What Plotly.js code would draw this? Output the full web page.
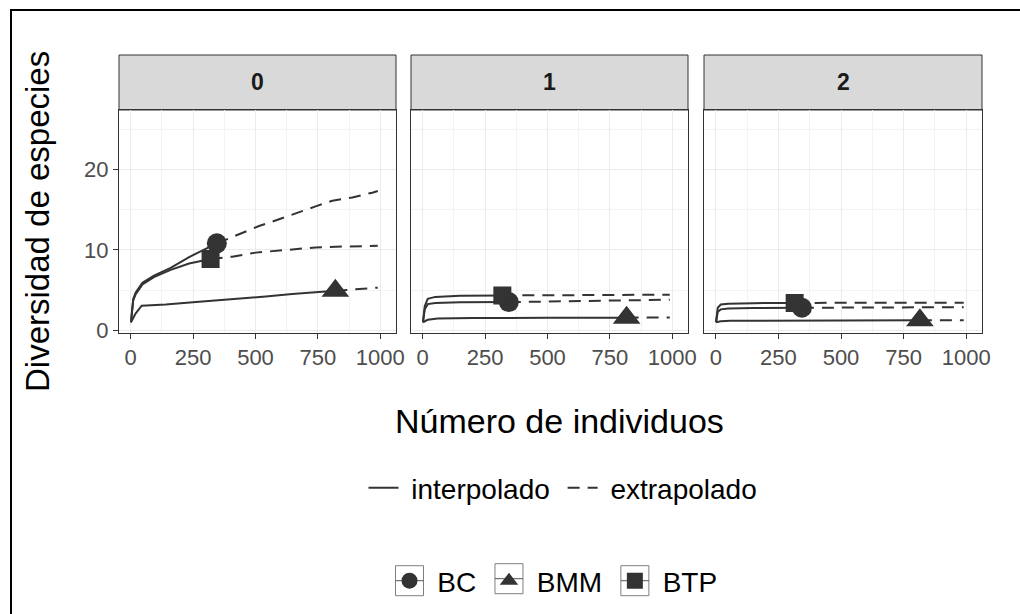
<!DOCTYPE html>
<html><head><meta charset="utf-8">
<script src="https://cdn.plot.ly/plotly-3.0.1.min.js"></script>
<style>html,body{margin:0;padding:0;background:#fff}#chart{width:1020px;height:614px}</style>
</head><body><div id="chart"></div>
<script>
// ---------- DATA ----------
const facetLabels = ['0', '1', '2'];
const siteNames = ['BC', 'BMM', 'BTP'];
const lineTypeNames = ['interpolado', 'extrapolado'];
const xTickVals = [0, 250, 500, 750, 1000];
const xTickText = ['0', '250', '500', '750', '1000'];
const yTickVals = [0, 10, 20];
const yTickText = ['0', '10', '20'];

// q = 0
const q0_BC_ix = [1, 10, 20, 47, 93, 160, 234, 274, 345];
const q0_BC_iy = [1, 3.9, 4.7, 5.9, 6.8, 7.75, 9.1, 9.75, 10.8];
const q0_BC_ex = [345, 427, 514, 600, 674, 741, 808, 888, 968, 990];
const q0_BC_ey = [10.8, 11.8, 12.95, 13.85, 14.7, 15.4, 16.1, 16.5, 17.1, 17.3];
const q0_BMM_ix = [1, 20, 44, 140, 274, 406, 541, 647, 741, 820];
const q0_BMM_iy = [1, 2.1, 3.06, 3.2, 3.55, 3.85, 4.2, 4.5, 4.72, 4.9];
const q0_BMM_ex = [820, 901, 990];
const q0_BMM_ey = [4.9, 5.1, 5.3];
const q0_BTP_ix = [1, 10, 20, 47, 93, 160, 234, 274, 320];
const q0_BTP_iy = [1, 3.7, 4.5, 5.7, 6.6, 7.5, 8.3, 8.55, 8.85];
const q0_BTP_ex = [320, 407, 501, 607, 741, 850, 952, 990];
const q0_BTP_ey = [8.85, 9.15, 9.65, 9.97, 10.3, 10.4, 10.45, 10.5];
const q0_obsX = [345, 820, 320];
const q0_obsY = [10.8, 4.9, 8.85];

// q = 1
const q1_BC_ix = [1, 8, 20, 50, 150, 345];
const q1_BC_iy = [1, 2.6, 3.25, 3.4, 3.47, 3.5];
const q1_BC_ex = [345, 550, 700, 990];
const q1_BC_ey = [3.5, 3.58, 3.72, 3.8];
const q1_BMM_ix = [1, 20, 60, 200, 500, 817];
const q1_BMM_iy = [1, 1.3, 1.45, 1.52, 1.55, 1.57];
const q1_BMM_ex = [817, 990];
const q1_BMM_ey = [1.57, 1.6];
const q1_BTP_ix = [1, 8, 20, 50, 150, 319];
const q1_BTP_iy = [1, 3.0, 3.9, 4.15, 4.28, 4.33];
const q1_BTP_ex = [319, 600, 990];
const q1_BTP_ey = [4.33, 4.4, 4.42];
const q1_obsX = [345, 817, 319];
const q1_obsY = [3.5, 1.57, 4.33];

// q = 2
const q2_BC_ix = [1, 8, 20, 50, 150, 344];
const q2_BC_iy = [1, 2.3, 2.6, 2.7, 2.76, 2.8];
const q2_BC_ex = [344, 600, 990];
const q2_BC_ey = [2.8, 2.85, 2.87];
const q2_BMM_ix = [1, 20, 60, 200, 500, 815];
const q2_BMM_iy = [1, 1.12, 1.18, 1.2, 1.22, 1.25];
const q2_BMM_ex = [815, 990];
const q2_BMM_ey = [1.25, 1.26];
const q2_BTP_ix = [1, 8, 20, 50, 150, 315];
const q2_BTP_iy = [1, 2.8, 3.2, 3.3, 3.37, 3.4];
const q2_BTP_ex = [315, 600, 990];
const q2_BTP_ey = [3.4, 3.42, 3.43];
const q2_obsX = [344, 815, 315];
const q2_obsY = [2.8, 1.25, 3.4];

// ---------- BUILD ----------
const facets = [
  {ax: 'x', ay: 'y', curves: [
    [q0_BC_ix, q0_BC_iy, q0_BC_ex, q0_BC_ey],
    [q0_BMM_ix, q0_BMM_iy, q0_BMM_ex, q0_BMM_ey],
    [q0_BTP_ix, q0_BTP_iy, q0_BTP_ex, q0_BTP_ey]], obsX: q0_obsX, obsY: q0_obsY},
  {ax: 'x2', ay: 'y2', curves: [
    [q1_BC_ix, q1_BC_iy, q1_BC_ex, q1_BC_ey],
    [q1_BMM_ix, q1_BMM_iy, q1_BMM_ex, q1_BMM_ey],
    [q1_BTP_ix, q1_BTP_iy, q1_BTP_ex, q1_BTP_ey]], obsX: q1_obsX, obsY: q1_obsY},
  {ax: 'x3', ay: 'y3', curves: [
    [q2_BC_ix, q2_BC_iy, q2_BC_ex, q2_BC_ey],
    [q2_BMM_ix, q2_BMM_iy, q2_BMM_ex, q2_BMM_ey],
    [q2_BTP_ix, q2_BTP_iy, q2_BTP_ex, q2_BTP_ey]], obsX: q2_obsX, obsY: q2_obsY}
];

const INK = '#333333';
const NB = '\u00a0';
const symbolsBySite = ['circle', 'triangle-up', 'square'];
const sizesBySite = [20, 24, 18];
const DASH = '12px,8px';

const traces = [];
facets.forEach((f, fi) => {
  f.curves.forEach((c, si) => {
    traces.push({type: 'scatter', mode: 'lines', x: c[0], y: c[1], xaxis: f.ax, yaxis: f.ay,
      line: {color: INK, width: 2}, hoverinfo: 'skip',
      name: NB + lineTypeNames[0] + NB, legend: 'legend', showlegend: fi === 0 && si === 0});
    traces.push({type: 'scatter', mode: 'lines', x: c[2], y: c[3], xaxis: f.ax, yaxis: f.ay,
      line: {color: INK, width: 2, dash: DASH}, hoverinfo: 'skip',
      name: NB + lineTypeNames[1], legend: 'legend', showlegend: fi === 0 && si === 0});
  });
  f.obsX.forEach((ox, si) => {
    traces.push({type: 'scatter', mode: 'markers', x: [ox], y: [f.obsY[si]], xaxis: f.ax, yaxis: f.ay,
      marker: {color: INK, symbol: symbolsBySite[si], size: sizesBySite[si], line: {width: 0}},
      name: NB + siteNames[si] + NB, legend: 'legend2', showlegend: fi === 0, hoverinfo: 'skip'});
  });
});

const W = 1020, H = 614;
const px = v => v / W, py = v => 1 - v / H;
const xDomains = [[px(119), px(396)], [px(411), px(688)], [px(704), px(982)]];
const yDomain = [py(332.7), py(110)];
const stripY = [py(110), py(55)];

const gridC = '#EBEBEB';
function xAxis(i) {
  return {domain: xDomains[i], range: [-47, 1063], tickvals: xTickVals, ticktext: xTickText,
    showgrid: true, gridcolor: gridC, gridwidth: 1, zeroline: false,
    minor: {tickvals: [125, 375, 625, 875], showgrid: true, gridcolor: '#F3F3F3', gridwidth: 1, ticks: ''},
    showline: true, mirror: true, linecolor: INK, linewidth: 1,
    ticks: 'outside', ticklen: 5, tickcolor: INK, tickwidth: 1,
    tickfont: {size: 22, color: '#4D4D4D'}, anchor: i === 0 ? 'y' : 'y' + (i + 1), fixedrange: true};
}
function yAxis(i) {
  return {domain: yDomain, range: [-0.3, 27.37], tickvals: yTickVals, ticktext: yTickText,
    showgrid: true, gridcolor: gridC, gridwidth: 1, zeroline: false,
    minor: {tickvals: [5, 15, 25], showgrid: true, gridcolor: '#F3F3F3', gridwidth: 1, ticks: ''},
    showline: true, mirror: true, linecolor: INK, linewidth: 1,
    ticks: i === 0 ? 'outside' : '', ticklen: 5, tickcolor: INK, tickwidth: 1,
    showticklabels: i === 0,
    tickfont: {size: 22, color: '#4D4D4D'}, anchor: i === 0 ? 'x' : 'x' + (i + 1), fixedrange: true};
}

const shapes = [];
const annotations = [];
['x', 'x2', 'x3'].forEach((a, i) => {
  shapes.push({type: 'rect', xref: a + ' domain', yref: 'paper', x0: 0, x1: 1, y0: stripY[0], y1: stripY[1],
    fillcolor: '#D9D9D9', line: {color: INK, width: 1}, layer: 'below'});
  annotations.push({xref: a + ' domain', yref: 'paper', x: 0.5, y: (stripY[0] + stripY[1]) / 2,
    text: '<b>' + facetLabels[i] + '</b>', showarrow: false, font: {size: 23, color: '#1A1A1A'},
    xanchor: 'center', yanchor: 'middle'});
});
// outer border
shapes.push({type: 'rect', xref: 'paper', yref: 'paper', x0: px(11), x1: 1.02, y0: -0.02, y1: py(10),
  line: {color: '#000', width: 2}, fillcolor: 'rgba(0,0,0,0)'});

annotations.push({xref: 'paper', yref: 'paper', x: px(559), y: py(421), text: 'Número de individuos',
  showarrow: false, font: {size: 34, color: '#000'}, xanchor: 'center', yanchor: 'middle'});
annotations.push({xref: 'paper', yref: 'paper', x: px(38), y: py(222), text: 'Diversidad de especies',
  showarrow: false, textangle: -90, font: {size: 33, color: '#000'}, xanchor: 'center', yanchor: 'middle'});

const layout = {
  width: W, height: H, margin: {l: 0, r: 0, t: 0, b: 0},
  paper_bgcolor: '#fff', plot_bgcolor: '#fff',
  font: {family: 'Liberation Sans, Arial, sans-serif', color: '#000'},
  xaxis: xAxis(0), xaxis2: xAxis(1), xaxis3: xAxis(2),
  yaxis: yAxis(0), yaxis2: yAxis(1), yaxis3: yAxis(2),
  shapes: shapes, annotations: annotations,
  legend: {orientation: 'h', x: px(563), xanchor: 'center', y: py(488), yanchor: 'middle',
    font: {size: 28, color: '#000'}, bgcolor: 'rgba(0,0,0,0)', itemwidth: 30},
  legend2: {orientation: 'h', x: px(560), xanchor: 'center', y: py(581), yanchor: 'middle',
    font: {size: 28, color: '#000'}, bgcolor: 'rgba(0,0,0,0)', itemwidth: 30},
  showlegend: true
};

Plotly.newPlot('chart', traces, layout, {staticPlot: true, displayModeBar: false}).then(gd => {
  // key boxes around the legend2 symbols, placed from the legend's own rendered positions
  const pts = gd.querySelectorAll('g.legend2 g.legendpoints path.scatterpts');
  const extra = [];
  const half = 14;
  pts.forEach(p => {
    const r = p.getBoundingClientRect();
    const cx = r.left + r.width / 2, cy = r.top + r.height / 2;
    extra.push({type: 'rect', xref: 'paper', yref: 'paper', x0: px(cx - half), x1: px(cx + half),
      y0: py(cy + half + 1), y1: py(cy - half - 1), line: {color: '#7F7F7F', width: 1}, fillcolor: '#fff', layer: 'below'});
    extra.push({type: 'line', xref: 'paper', yref: 'paper', x0: px(cx - half), x1: px(cx + half),
      y0: py(cy), y1: py(cy), line: {color: '#555', width: 1}, layer: 'below'});
  });
  if (extra.length) Plotly.relayout(gd, {shapes: shapes.concat(extra)});
});
</script></body></html>
